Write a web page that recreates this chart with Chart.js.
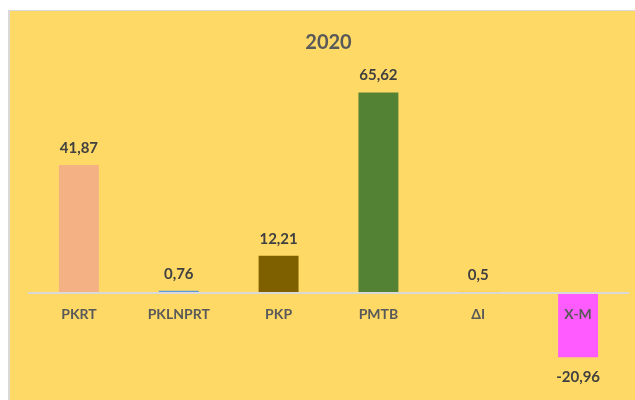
<!DOCTYPE html>
<html>
<head>
<meta charset="utf-8">
<script src="https://cdn.jsdelivr.net/npm/chart.js@4"></script>
<style>
  html, body { margin: 0; padding: 0; background: #ffffff; }
  #wrap { width: 635px; height: 400px; }
</style>
</head>
<body>
<div id="wrap"><canvas id="c" width="635" height="400"></canvas></div>
<script>
const categories = ['PKRT', 'PKLNPRT', 'PKP', 'PMTB', 'ΔI', 'X-M'];
const values = [41.87, 0.76, 12.21, 65.62, 0.5, -20.96];
const valueLabels = ['41,87', '0,76', '12,21', '65,62', '0,5', '-20,96'];
const barColors = ['#F4B183', '#5B9BD5', '#7F6000', '#548235', '#FFC000', '#FF5BFF'];
const chartTitle = '2020';

const bgPlugin = {
  id: 'bg',
  beforeDraw(chart) {
    const ctx = chart.ctx;
    ctx.save();
    ctx.fillStyle = '#ffffff';
    ctx.fillRect(0, 0, chart.width, chart.height);
    ctx.fillStyle = '#D9D9D9';
    ctx.fillRect(8, 10, chart.width - 8, chart.height - 10);
    ctx.fillStyle = '#FFD966';
    ctx.fillRect(10, 11, chart.width - 10, chart.height - 11);
    ctx.restore();
  }
};

const valueLabelPlugin = {
  id: 'valueLabels',
  afterDraw(chart) {
    const ctx = chart.ctx;
    const meta = chart.getDatasetMeta(0);
    ctx.save();
    ctx.font = 'bold 15px Lato';
    ctx.fillStyle = '#404040';
    ctx.textAlign = 'center';
    ctx.textBaseline = 'middle';
    meta.data.forEach((bar, i) => {
      const v = values[i];
      const y = v >= 0 ? bar.y - 17 : bar.y + 20;
      ctx.fillText(valueLabels[i], bar.x, y);
    });
    ctx.restore();
  }
};

new Chart(document.getElementById('c'), {
  type: 'bar',
  data: {
    labels: categories,
    datasets: [{
      data: values,
      backgroundColor: barColors,
      borderWidth: 0,
      barPercentage: 0.4,
      categoryPercentage: 1.0
    }]
  },
  options: {
    responsive: false,
    animation: false,
    devicePixelRatio: 1,
    layout: { padding: { left: 29, right: 7, top: 11, bottom: 15 } },
    plugins: {
      legend: { display: false },
      tooltip: { enabled: false },
      title: {
        display: true,
        text: chartTitle,
        color: '#595959',
        font: { family: 'Lato', size: 20, weight: 'bold' },
        padding: { top: 20, bottom: 24 }
      }
    },
    scales: {
      x: {
        position: { y: 0 },
        afterFit(scale) { scale.height = 0; },
        grid: { display: true, color: 'rgba(0,0,0,0)', drawTicks: false, z: 1 },
        border: { display: true, color: '#D9D9D9', width: 2, z: 1 },
        ticks: {
          z: 1,
          color: '#595959',
          font: { family: 'Lato', size: 14, weight: 'bold' },
          padding: 13,
          maxRotation: 0,
          autoSkip: false
        }
      },
      y: {
        display: false,
        min: -30,
        max: 70
      }
    }
  },
  plugins: [bgPlugin, valueLabelPlugin]
});
</script>
</body>
</html>
